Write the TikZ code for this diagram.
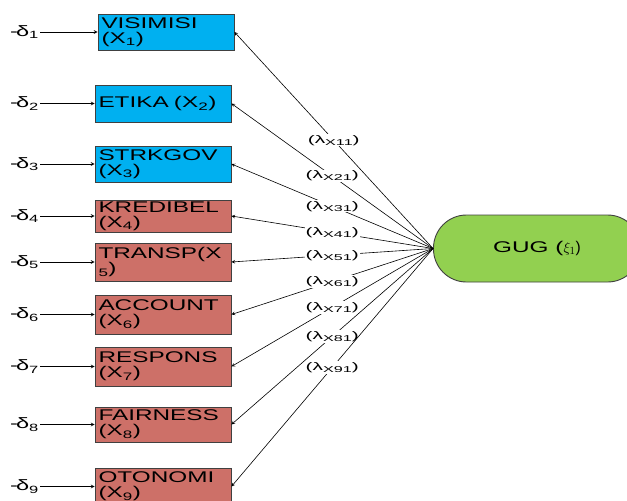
\documentclass[tikz,border=0pt]{standalone}
\usepackage{fontspec}
\setmainfont{Liberation Sans}
\newfontfamily\widefont[FakeStretch=1.57]{Liberation Sans}
\newfontfamily\lamfont[FakeStretch=1.9]{Liberation Sans}
\usetikzlibrary{positioning}
\definecolor{indblue}{RGB}{0,176,240}
\definecolor{indred}{RGB}{205,112,104}
\definecolor{latgreen}{RGB}{146,208,80}
\newcommand{\lsub}[1]{\raisebox{-2pt}{\fontsize{8.5}{9}\selectfont #1}}
\tikzset{%
  bluebox/.style = {rectangle,draw=black!75,line width=0.9pt,fill=indblue,
        minimum width=136pt,text width=129pt,align=left,inner xsep=3.5pt,
        inner ysep=1pt,font=\widefont\fontsize{15.5}{15}\selectfont},
  redbox/.style = {bluebox,fill=indred},
  err/.style = {anchor=east,inner sep=1pt,
        font=\widefont\fontsize{15}{16}\selectfont},
  lat/.style = {rectangle,rounded corners=33pt,draw=black!75,line width=0.9pt,
        fill=latgreen,minimum width=207pt,minimum height=67pt,
        font=\widefont\fontsize{15.5}{16}\selectfont},
  lam/.style = {fill=white,inner sep=1pt,
        font=\lamfont\fontsize{11}{12}\selectfont},
  errarrow/.style = {-stealth,line width=0.7pt},
  loadarrow/.style = {-stealth,line width=0.6pt}
}

\begin{document}
\begin{tikzpicture}[x=1pt,y=-1pt]
\useasboundingbox (0,0) rectangle (627,501);
\clip (0,0) rectangle (627,501);

% indicators
\node[bluebox,minimum height=36pt] (x1) at (166,32) {VISIMISI\\(X\textsubscript{1})};
\node[bluebox,minimum height=37pt] (x2) at (163,103.5) {ETIKA (X\textsubscript{2})};
\node[bluebox,minimum height=36pt] (x3) at (163,164) {STRKGOV\\(X\textsubscript{3})};
\node[redbox,minimum height=32pt] (x4) at (163,216) {KREDIBEL\\(X\textsubscript{4})};
\node[redbox,minimum height=38pt] (x5) at (163,262) {TRANSP(X\\\textsubscript{5})};
\node[redbox,minimum height=39pt] (x6) at (163,314.5) {ACCOUNT\\(X\textsubscript{6})};
\node[redbox,minimum height=39pt] (x7) at (163,366.5) {RESPONS\\(X\textsubscript{7})};
\node[redbox,minimum height=35pt] (x8) at (163,424.5) {FAIRNESS\\(X\textsubscript{8})};
\node[redbox,minimum height=37pt] (x9) at (163,486.5) {OTONOMI\\(X\textsubscript{9})};

% errors
\node[err] (d1) at (40,32) {-\kern-2ptδ\textsubscript{1}};
\node[err] (d2) at (40,103.5) {-\kern-2ptδ\textsubscript{2}};
\node[err] (d3) at (40,164) {-\kern-2ptδ\textsubscript{3}};
\node[err] (d4) at (40,216) {-\kern-2ptδ\textsubscript{4}};
\node[err] (d5) at (40,262) {-\kern-2ptδ\textsubscript{5}};
\node[err] (d6) at (40,314.5) {-\kern-2ptδ\textsubscript{6}};
\node[err] (d7) at (40,366.5) {-\kern-2ptδ\textsubscript{7}};
\node[err] (d8) at (40,424.5) {-\kern-2ptδ\textsubscript{8}};
\node[err] (d9) at (40,486.5) {-\kern-2ptδ\textsubscript{9}};

\draw[errarrow] (d1) -- (x1);
\draw[errarrow] (d2) -- (x2);
\draw[errarrow] (d3) -- (x3);
\draw[errarrow] (d4) -- (x4);
\draw[errarrow] (d5) -- (x5);
\draw[errarrow] (d6) -- (x6);
\draw[errarrow] (d7) -- (x7);
\draw[errarrow] (d8) -- (x8);
\draw[errarrow] (d9) -- (x9);

% latent
\node[lat] (gug) at (537,248.5) {GUG (\normalfont$\xi_1$)};

% loadings
\draw[loadarrow] (gug.west) -- (x1.east) node[lam,pos=0.5] {(λ\lsub{X11})};
\draw[loadarrow] (gug.west) -- (x2.east) node[lam,pos=0.5] {(λ\lsub{X21})};
\draw[loadarrow] (gug.west) -- (x3.east) node[lam,pos=0.5] {(λ\lsub{X31})};
\draw[loadarrow] (gug.west) -- (x4.east) node[lam,pos=0.5] {(λ\lsub{X41})};
\draw[loadarrow] (gug.west) -- (x5.east) node[lam,pos=0.5] {(λ\lsub{X51})};
\draw[loadarrow] (gug.west) -- (x6.east) node[lam,pos=0.5] {(λ\lsub{X61})};
\draw[loadarrow] (gug.west) -- (x7.east) node[lam,pos=0.5] {(λ\lsub{X71})};
\draw[loadarrow] (gug.west) -- (x8.east) node[lam,pos=0.5] {(λ\lsub{X81})};
\draw[loadarrow] (gug.west) -- (x9.east) node[lam,pos=0.5] {(λ\lsub{X91})};
\end{tikzpicture}
\end{document}
